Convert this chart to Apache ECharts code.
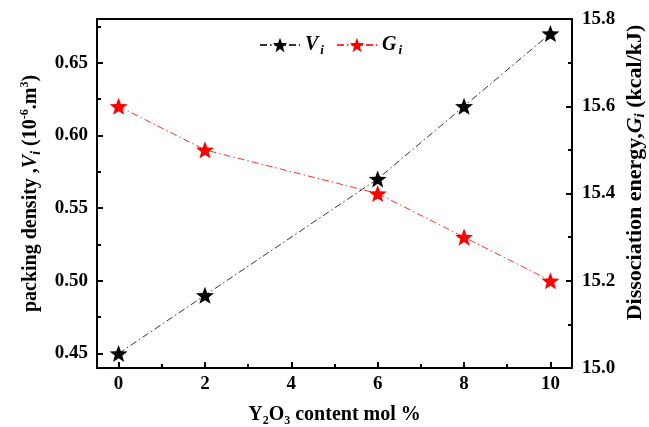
<!DOCTYPE html>
<html>
<head>
<meta charset="utf-8">
<script src="https://cdn.jsdelivr.net/npm/echarts@6/dist/echarts.min.js"></script>
<style>html,body{margin:0;padding:0;background:#fff;}#c{width:649px;height:427px;}</style>
</head>
<body>
<div id="c"></div>
<script>
// ---- data ----
const contentMol = [0, 2, 6, 8, 10];
const packingDensity = [0.45, 0.49, 0.57, 0.62, 0.67];
const dissociationEnergy = [15.6, 15.5, 15.4, 15.3, 15.2];
const xTickLabels = [0, 2, 4, 6, 8, 10];
const xMinorTicks = [1, 3, 5, 7, 9];
const leftTickLabels = [0.45, 0.50, 0.55, 0.60, 0.65];
const leftMinorTicks = [0.475, 0.525, 0.575, 0.625, 0.675];
const rightTickLabels = [15.0, 15.2, 15.4, 15.6, 15.8];

function starPath() {
  const pts = [];
  for (let k = 0; k < 10; k++) {
    const a = (-90 + k * 36) * Math.PI / 180;
    const r = k % 2 ? 0.42 : 1;
    pts.push((50 + 50 * r * Math.cos(a)).toFixed(2) + ',' + (50 + 50 * r * Math.sin(a)).toFixed(2));
  }
  return 'path://M' + pts.join('L') + 'Z';
}
const STAR = starPath();
const FONT = '"Liberation Serif", "Times New Roman", serif';
const axisLineStyle = { color: '#000', width: 2 };
const tickStyle = { color: '#000', width: 2 };

const chart = echarts.init(document.getElementById('c'), null, { renderer: 'canvas' });
function richFor(size) {
  return {
    it: { fontFamily: FONT, fontWeight: 'bold', fontStyle: 'italic', fontSize: size, color: '#000' },
    sub: { fontFamily: FONT, fontWeight: 'bold', fontStyle: 'italic', fontSize: Math.round(size * 0.68), color: '#000', padding: [11, 0, 0, 0] },
    subn: { fontFamily: FONT, fontWeight: 'bold', fontSize: Math.round(size * 0.62), color: '#000', padding: [12, 0, 0, 0] },
    sup: { fontFamily: FONT, fontWeight: 'bold', fontSize: Math.round(size * 0.62), color: '#000', padding: [0, 0, 11, 0] }
  };
}

chart.setOption({
  animation: false,
  backgroundColor: '#fff',
  grid: { left: 97, right: 77, top: 19, bottom: 59, containLabel: false, outerBoundsMode: 'none' },
  legend: {
    left: 254, top: 30,
    itemWidth: 40, itemHeight: 18, itemGap: 12,
    data: ['Vi', 'Gi'],
    formatter: function (n) { return n === 'Vi' ? '{m|V}{s|i}' : '{m|G}{s|i}'; },
    textStyle: {
      fontFamily: FONT, color: '#000',
      rich: {
        m: { fontFamily: FONT, fontWeight: 'bold', fontStyle: 'italic', fontSize: 20, color: '#000' },
        s: { fontFamily: FONT, fontWeight: 'bold', fontStyle: 'italic', fontSize: 13, color: '#000', padding: [12, 0, 0, 2] }
      }
    }
  },
  xAxis: [
    {
      type: 'value', min: -0.5, max: 10.5, position: 'bottom',
      name: 'Y{subn|2}O{subn|3} content mol %',
      nameLocation: 'middle', nameGap: 35,
      nameTextStyle: { fontFamily: FONT, fontWeight: 'bold', fontSize: 20, color: '#000', rich: richFor(20) },
      axisLine: { show: true, onZero: false, lineStyle: axisLineStyle },
      axisTick: { show: true, inside: true, length: 6, lineStyle: tickStyle, customValues: xTickLabels },
      axisLabel: { show: true, customValues: xTickLabels, margin: 7, fontFamily: FONT, fontWeight: 'bold', fontSize: 19, color: '#000' },
      splitLine: { show: false }
    },
    {
      type: 'value', min: -0.5, max: 10.5, position: 'top',
      axisLine: { show: true, onZero: false, lineStyle: axisLineStyle },
      axisTick: { show: false }, axisLabel: { show: false }, splitLine: { show: false }
    },
    {
      type: 'value', min: -0.5, max: 10.5, position: 'bottom',
      axisLine: { show: false, onZero: false },
      axisTick: { show: true, inside: true, length: 4, lineStyle: tickStyle, customValues: xMinorTicks },
      axisLabel: { show: false }, splitLine: { show: false }
    }
  ],
  yAxis: [
    {
      type: 'value', min: 0.44, max: 0.68, position: 'left',
      name: 'packing density ,{it|V}{sub|i} (10{sup|-6}.m{sup|3})',
      nameLocation: 'middle', nameGap: 54, nameRotate: 90,
      nameTextStyle: { fontFamily: FONT, fontWeight: 'bold', fontSize: 20, color: '#000', rich: richFor(20) },
      axisLine: { show: true, onZero: false, lineStyle: axisLineStyle },
      axisTick: { show: true, inside: true, length: 6, lineStyle: tickStyle, customValues: leftTickLabels },
      axisLabel: { show: true, customValues: leftTickLabels, margin: 9, formatter: v => v.toFixed(2), fontFamily: FONT, fontWeight: 'bold', fontSize: 19, color: '#000' },
      splitLine: { show: false }
    },
    {
      type: 'value', min: 15.0, max: 15.8, interval: 0.2, position: 'right',
      name: 'Dissociation energy,{it|G}{sub|i} (kcal/kJ)',
      nameLocation: 'middle', nameGap: 50, nameRotate: 90, nameMoveOverlap: false,
      nameTextStyle: { fontFamily: FONT, fontWeight: 'bold', fontSize: 22, color: '#000', rich: richFor(22), padding: [0, 0, 0, 42] },
      axisLine: { show: true, onZero: false, lineStyle: axisLineStyle },
      axisTick: { show: true, inside: true, length: 6, lineStyle: tickStyle },
      minorTick: { show: true, splitNumber: 2, length: 4, lineStyle: tickStyle },
      axisLabel: { show: true, margin: 10, formatter: v => v.toFixed(1), fontFamily: FONT, fontWeight: 'bold', fontSize: 19, color: '#000' },
      splitLine: { show: false }
    },
    {
      type: 'value', min: 0.44, max: 0.68, position: 'left',
      axisLine: { show: false, onZero: false },
      axisTick: { show: true, inside: true, length: 4, lineStyle: tickStyle, customValues: leftMinorTicks },
      axisLabel: { show: false }, splitLine: { show: false }
    }
  ],
  series: [
    {
      name: 'Vi', type: 'line', xAxisIndex: 0, yAxisIndex: 0,
      data: contentMol.map((x, i) => [x, packingDensity[i]]),
      symbol: STAR, symbolSize: 18, symbolKeepAspect: true,
      itemStyle: { color: '#000' },
      lineStyle: { color: '#333', width: 1, type: [7, 3, 1.5, 3] }
    },
    {
      name: 'Gi', type: 'line', xAxisIndex: 0, yAxisIndex: 1,
      data: contentMol.map((x, i) => [x, dissociationEnergy[i]]),
      symbol: STAR, symbolSize: 18, symbolKeepAspect: true,
      itemStyle: { color: '#ff0000' },
      lineStyle: { color: '#ff3030', width: 1, type: [7, 3, 1.5, 3] }
    }
  ]
});
</script>
</body>
</html>
